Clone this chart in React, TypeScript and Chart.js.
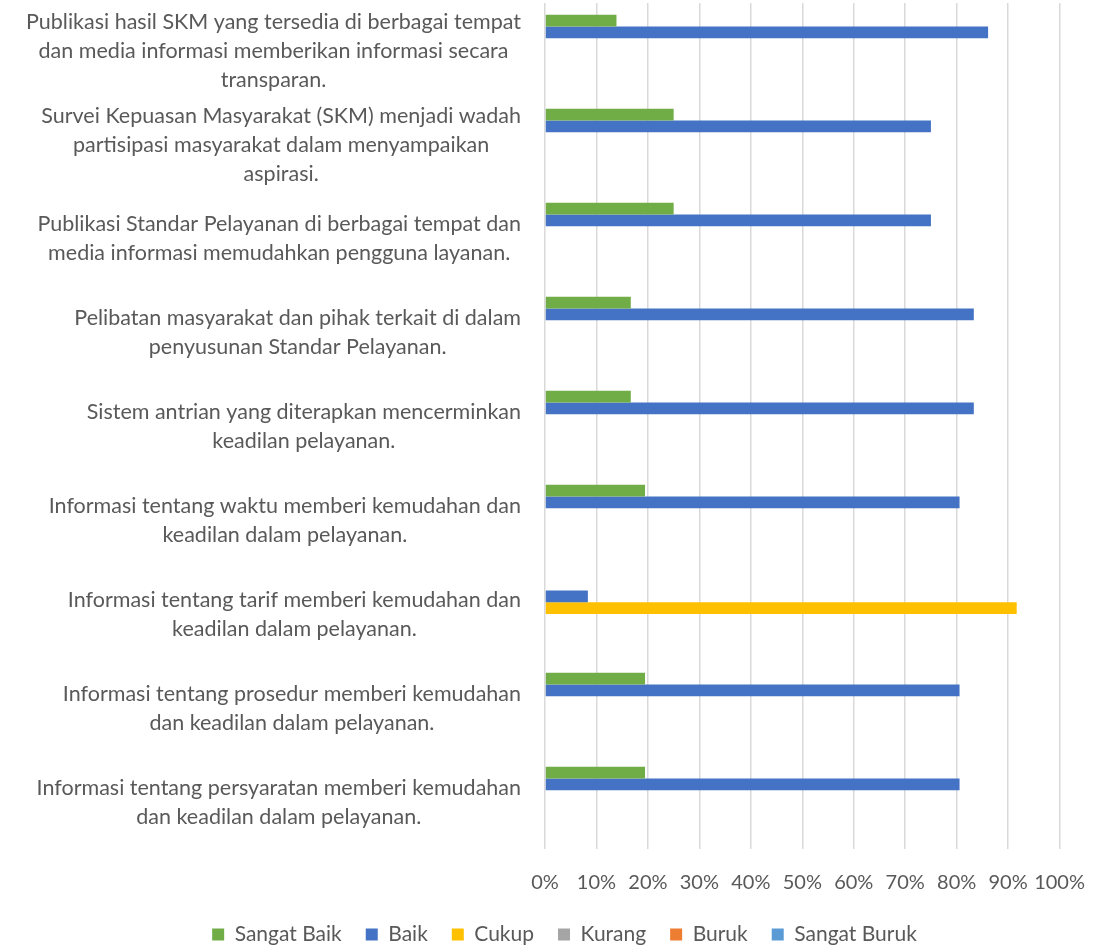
import { useEffect, useRef } from 'react';
import { Chart, registerables } from 'chart.js';

Chart.register(...registerables);

const categories: string[][] = [
  ['Publikasi hasil SKM yang tersedia di berbagai tempat', 'dan media informasi memberikan informasi secara', 'transparan.'],
  ['Survei Kepuasan Masyarakat (SKM) menjadi wadah', 'partisipasi masyarakat dalam menyampaikan', 'aspirasi.'],
  ['Publikasi Standar Pelayanan di berbagai tempat dan', 'media informasi memudahkan pengguna layanan.'],
  ['Pelibatan masyarakat dan pihak terkait di dalam', 'penyusunan Standar Pelayanan.'],
  ['Sistem antrian yang diterapkan mencerminkan', 'keadilan pelayanan.'],
  ['Informasi tentang waktu memberi kemudahan dan', 'keadilan dalam pelayanan.'],
  ['Informasi tentang tarif memberi kemudahan dan', 'keadilan dalam pelayanan.'],
  ['Informasi tentang prosedur memberi kemudahan', 'dan keadilan dalam pelayanan.'],
  ['Informasi tentang persyaratan memberi kemudahan', 'dan keadilan dalam pelayanan.'],
];

const seriesNames = ['Sangat Baik', 'Baik', 'Cukup', 'Kurang', 'Buruk', 'Sangat Buruk'];
const sangatBaik = [13.89, 25, 25, 16.67, 16.67, 19.44, 0, 19.44, 19.44];
const baik = [86.11, 75, 75, 83.33, 83.33, 80.56, 8.33, 80.56, 80.56];
const cukup = [0, 0, 0, 0, 0, 0, 91.67, 0, 0];
const kurang = [0, 0, 0, 0, 0, 0, 0, 0, 0];
const buruk = [0, 0, 0, 0, 0, 0, 0, 0, 0];
const sangatBuruk = [0, 0, 0, 0, 0, 0, 0, 0, 0];
const xTicks = [0, 10, 20, 30, 40, 50, 60, 70, 80, 90, 100];

const colors = ['#70AD47', '#4472C4', '#FFC000', '#A5A5A5', '#ED7D31', '#5B9BD5'];
const FONT = 'Lato, "Open Sans", sans-serif';
const TEXT = '#595959';
const LABEL_SIZE = 21.5;
const LINE_H = 29;

const yLabelPlugin = {
  id: 'yLabels',
  afterDraw(chart: any) {
    const ctx = chart.ctx;
    const y = chart.scales.y;
    ctx.save();
    ctx.font = `${LABEL_SIZE}px ${FONT}`;
    ctx.fillStyle = TEXT;
    ctx.textBaseline = 'middle';
    ctx.textAlign = 'center';
    const right = chart.chartArea.left - 24;
    (chart.data.labels as any[]).forEach((lab, i) => {
      const lines: string[] = Array.isArray(lab) ? lab : [lab];
      const yc = y.getPixelForTick(i) + 1;
      const w = Math.max(...lines.map((l) => ctx.measureText(l).width));
      const cx = right - w / 2;
      lines.forEach((l, j) => {
        ctx.fillText(l, cx, yc + (j - (lines.length - 1) / 2) * LINE_H);
      });
    });
    ctx.restore();
  },
};

export default function App() {
  const ref = useRef<HTMLCanvasElement>(null);
  useEffect(() => {
    if (!ref.current) return;
    const data = [sangatBaik, baik, cukup, kurang, buruk, sangatBuruk];
    const chart = new Chart(ref.current, {
      type: 'bar',
      data: {
        labels: categories,
        datasets: seriesNames.map((name, i) => ({
          label: name,
          data: data[i],
          backgroundColor: colors[i],
          borderColor: colors[i],
          borderWidth: 0,
          categoryPercentage: 0.75,
          barPercentage: 1,
        })),
      },
      options: {
        indexAxis: 'y',
        responsive: true,
        maintainAspectRatio: false,
        animation: false,
        layout: { padding: { left: 58, right: 36, top: 3, bottom: 0 } },
        scales: {
          x: {
            min: 0,
            max: 100,
            afterBuildTicks: (s: any) => {
              s.ticks = xTicks.map((v) => ({ value: v }));
            },
            afterFit: (s: any) => {
              s.height = s.height - 17;
            },
            ticks: {
              callback: (v: any) => `${v}%`,
              color: TEXT,
              font: { size: 20, family: FONT },
              padding: 22,
              maxRotation: 0,
              autoSkip: false,
            },
            grid: { color: '#d9d9d9', lineWidth: 1.5, drawTicks: false },
            border: { display: false },
          },
          y: {
            ticks: { display: false },
            grid: { display: false },
            border: { display: false },
            afterFit: (s: any) => {
              s.width = 487;
            },
          },
        },
        plugins: {
          legend: {
            position: 'bottom',
            labels: {
              boxWidth: 12,
              boxHeight: 12,
              color: TEXT,
              font: { size: 21, family: FONT },
              padding: 24,
            },
          },
          tooltip: { enabled: false },
        },
      },
      plugins: [yLabelPlugin],
    });
    return () => chart.destroy();
  }, []);
  return (
    <div style={{ position: 'absolute', left: 0, top: 0, width: 1107, height: 947, overflow: 'hidden' }}>
      <div style={{ position: 'relative', width: 1107, height: 955 }}>
        <canvas ref={ref} />
      </div>
    </div>
  );
}
